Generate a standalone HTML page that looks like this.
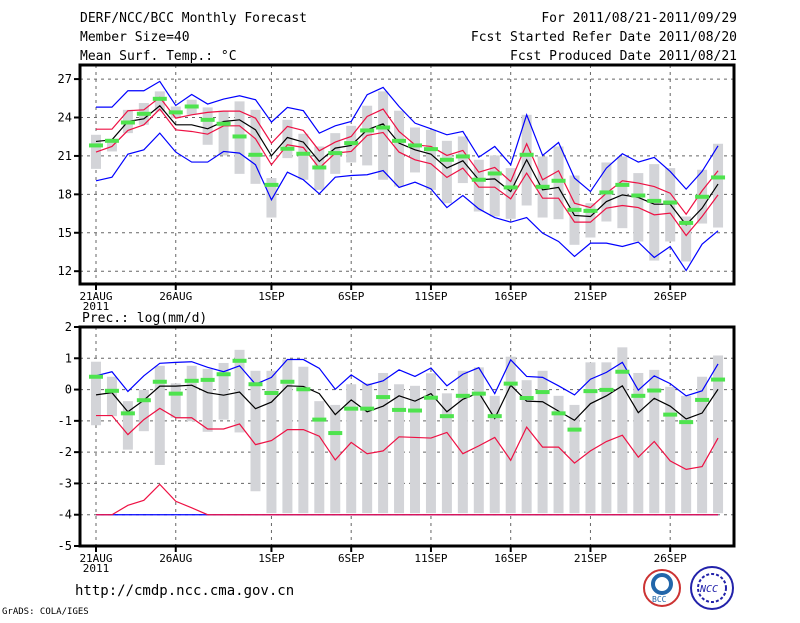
<!DOCTYPE html>
<html><head><meta charset="utf-8"><style>
body{margin:0;background:#fff;width:800px;height:618px;overflow:hidden}
svg text{font-family:"DejaVu Sans Mono","Liberation Mono",monospace;fill:#000}
</style></head><body>
<svg id="c" width="800" height="618" xmlns="http://www.w3.org/2000/svg">
<g font-size="13">
<text x="80" y="22">DERF/NCC/BCC Monthly Forecast</text>
<text x="80" y="41">Member Size=40</text>
<text x="80" y="60">Mean Surf. Temp.: °C</text>
<text x="737" y="22" text-anchor="end">For 2011/08/21-2011/09/29</text>
<text x="737" y="41" text-anchor="end">Fcst Started Refer Date 2011/08/20</text>
<text x="737" y="60" text-anchor="end">Fcst Produced Date 2011/08/21</text>
</g>
<text x="82" y="322" font-size="13">Prec.: log(mm/d)</text>
<text x="75" y="595" font-size="14">http://cmdp.ncc.cma.gov.cn</text>
<text x="2" y="614" font-size="9">GrADS: COLA/IGES</text>
<g>
<circle cx="662" cy="588" r="18" fill="#fff" stroke="#c33" stroke-width="2"/>
<circle cx="662" cy="584" r="9" fill="none" stroke="#26a" stroke-width="4"/>
<text x="652" y="602" font-size="8" fill="#26a" style="fill:#26a">BCC</text>
</g>
<g>
<circle cx="712" cy="588" r="21" fill="#fff" stroke="#22a" stroke-width="2"/>
<circle cx="712" cy="588" r="14" fill="none" stroke="#22a" stroke-width="2" stroke-dasharray="3 2"/>
<text x="700" y="592" font-size="10" style="fill:#22a;font-style:italic">NCC</text>
</g>
</svg>
<script>
const days=["21AUG","26AUG","1SEP","6SEP","11SEP","16SEP","21SEP","26SEP"];
const dayIdx=[0,5,11,16,21,26,31,36];
const tTicks=[12,15,18,21,24,27];
const pTicks=[-5,-4,-3,-2,-1,0,1,2];
const tBlueHi=[24.81,24.81,26.09,26.09,26.82,24.94,25.8,25.05,25.44,25.7,25.39,23.64,24.79,24.53,22.78,23.35,23.69,25.78,26.35,24.86,23.56,23.12,22.65,22.91,20.9,21.74,20.31,24.21,21.04,22.05,19.27,18.22,20.05,21.17,20.52,20.88,19.79,18.41,19.79,21.79];
const tRedHi=[23.09,23.09,24.53,24.6,25.57,23.95,24.21,24.4,24.5,24.5,23.95,22.0,23.3,22.99,21.4,22.08,22.52,24.08,24.66,22.91,21.87,21.74,21.04,21.43,19.73,20.1,19.0,21.95,19.14,19.84,17.31,16.97,18.09,19.06,18.88,18.61,18.09,16.45,18.28,19.84];
const tMean=[22.13,22.26,23.69,23.9,24.92,23.43,23.43,23.12,23.69,23.82,23.04,21.01,22.44,22.08,20.57,21.61,21.82,23.04,23.51,22.0,21.48,21.14,20.05,20.62,19.14,19.21,18.22,20.7,18.35,18.54,16.35,16.27,17.44,17.96,17.76,17.23,17.23,15.62,16.92,18.8];
const tRedLo=[21.3,21.74,22.99,23.43,24.66,23.04,22.91,22.7,23.35,23.35,22.34,20.31,21.87,21.66,20.05,21.22,21.35,22.6,22.83,21.3,20.7,20.39,19.32,20.05,18.56,18.56,17.65,19.66,17.7,17.7,15.83,15.83,16.92,17.13,16.97,16.4,16.53,14.79,16.27,17.96];
const tBlueLo=[19.06,19.34,21.14,21.48,22.78,21.3,20.52,20.52,21.35,21.22,20.31,17.57,19.73,19.14,18.04,19.34,19.47,19.53,19.86,18.54,18.95,18.43,16.97,17.91,16.87,16.19,15.83,16.19,14.97,14.32,13.15,14.19,14.19,13.93,14.27,13.07,13.93,12.05,14.11,15.15];
const tObs=[21.82,22.18,23.61,24.29,25.46,24.4,24.86,23.82,23.51,22.52,21.09,18.74,21.56,21.17,20.1,21.22,22.0,22.99,23.22,22.18,21.82,21.53,20.7,20.96,19.14,19.63,18.54,21.09,18.59,19.06,16.79,16.71,18.15,18.74,17.91,17.49,17.36,15.77,17.81,19.32];
const tBarHi=[22.65,22.34,24.6,25.13,26.04,24.86,25.39,24.79,24.53,25.26,24.6,19.27,23.82,22.73,21.74,22.78,23.35,24.92,26.04,24.53,23.22,23.04,22.18,22.52,20.7,21.04,20.05,24.21,20.96,21.74,19.47,17.31,20.49,20.96,19.66,20.36,20.05,16.27,19.92,21.95];
const tBarLo=[19.99,21.35,22.78,23.43,24.47,23.95,24.21,21.87,21.04,19.6,18.82,16.19,20.83,19.14,18.35,19.6,20.49,20.26,19.14,18.61,19.71,18.35,17.31,18.88,16.66,16.27,16.09,17.13,16.19,16.06,14.06,14.63,15.88,15.36,14.32,12.83,14.32,12.76,15.72,15.41];
const pBlueHi=[0.44,0.57,-0.06,0.44,0.84,0.87,0.89,0.71,0.57,0.76,0.17,0.39,0.96,0.96,0.68,0.01,0.47,0.14,0.28,0.63,0.42,0.69,0.12,0.49,0.70,-0.13,0.95,0.42,0.39,0.12,-0.17,0.33,0.55,0.87,-0.02,0.44,0.19,-0.2,-0.04,0.82];
const pMean=[-0.17,-0.10,-0.71,-0.34,0.11,0.11,0.14,-0.10,-0.18,-0.08,-0.61,-0.40,0.12,0.10,-0.13,-0.80,-0.33,-0.71,-0.53,-0.20,-0.37,-0.13,-0.71,-0.31,-0.10,-0.92,0.14,-0.37,-0.39,-0.69,-0.98,-0.45,-0.20,0.12,-0.74,-0.28,-0.53,-0.94,-0.75,0.01];
const pRedHi=[-0.83,-0.83,-1.44,-0.96,-0.60,-0.90,-0.90,-1.26,-1.26,-1.10,-1.76,-1.63,-1.28,-1.28,-1.49,-2.25,-1.69,-2.05,-1.96,-1.51,-1.53,-1.55,-1.37,-2.05,-1.80,-1.53,-2.26,-1.20,-1.84,-1.84,-2.35,-1.96,-1.66,-1.46,-2.16,-1.66,-2.28,-2.55,-2.46,-1.55];
const pRedLo=[-4,-4,-3.70,-3.54,-3.03,-3.57,-3.78,-4,-4,-4,-4,-4,-4,-4,-4,-4,-4,-4,-4,-4,-4,-4,-4,-4,-4,-4,-4,-4,-4,-4,-4,-4,-4,-4,-4,-4,-4,-4,-4,-4];
const pBlueLo=[-4,-4,-4,-4,-4,-4,-4,-4,-4,-4,-4,-4,-4,-4,-4,-4,-4,-4,-4,-4,-4,-4,-4,-4,-4,-4,-4,-4,-4,-4,-4,-4,-4,-4,-4,-4,-4,-4,-4,-4];
const pObs=[0.41,-0.04,-0.76,-0.34,0.25,-0.13,0.28,0.31,0.49,0.92,0.17,-0.11,0.25,0.01,-0.96,-1.39,-0.61,-0.61,-0.24,-0.65,-0.67,-0.26,-0.85,-0.20,-0.13,-0.85,0.19,-0.27,-0.08,-0.76,-1.28,-0.05,-0.01,0.57,-0.20,-0.03,-0.80,-1.04,-0.33,0.32];
const pBarHi=[0.89,0.41,-0.37,-0.01,0.76,0.2,0.76,0.66,0.85,1.27,0.6,0.6,0.96,0.73,-0.37,-0.49,0.17,0.2,0.53,0.17,0.12,0.52,-0.12,0.6,0.71,-0.2,1.05,0.3,0.6,-0.2,-0.49,0.87,0.87,1.35,0.53,0.63,0.09,-0.2,0.41,1.09];
const pBarLo=[-1.14,-0.85,-1.92,-1.33,-2.41,-0.9,-1.01,-1.35,-0.96,-1.37,-3.25,-3.95,-3.95,-3.95,-3.95,-3.95,-3.95,-3.95,-3.95,-3.95,-3.95,-3.95,-3.95,-3.95,-3.95,-3.95,-3.95,-3.95,-3.95,-3.95,-3.95,-3.95,-3.95,-3.95,-3.95,-3.95,-3.95,-3.95,-3.95,-3.95];

const svg=document.getElementById('c');
const NS='http://www.w3.org/2000/svg';
function mk(tag,attrs,parent){const e=document.createElementNS(NS,tag);for(const k in attrs)e.setAttribute(k,attrs[k]);(parent||svg).appendChild(e);return e;}
const X=i=>96+15.95*i;

function panel(name,top,bot,vmin,vmax,ticks,series,bHi,bLo,obs){
  const Y=v=>bot-(v-vmin)/(vmax-vmin)*(bot-top);
  const g=mk('g',{});
  
  
  ticks.forEach(t=>{
    const y=Y(t);
    if(t>vmin&&t<vmax){const l=mk('line',{x1:80,x2:734,y1:y,y2:y,stroke:'#666','stroke-dasharray':'3 4','stroke-width':1},g);
    
    }
    mk('line',{x1:74,x2:80,y1:y,y2:y,stroke:'#000','stroke-width':2},g);
    const tx=mk('text',{x:72,y:y+4,'text-anchor':'end','font-size':12},g);
    tx.textContent=t;
    
    
  });
  dayIdx.forEach((d,k)=>{
    const x=X(d);
    const l=mk('line',{x1:x,x2:x,y1:top,y2:bot,stroke:'#666','stroke-dasharray':'3 4','stroke-width':1},g);
    
    
    mk('line',{x1:x,x2:x,y1:bot,y2:bot+6,stroke:'#000','stroke-width':2},g);
    const tx=mk('text',{x:x,y:bot+16,'text-anchor':'middle','font-size':11},g);
    tx.textContent=days[k];
    
    
  });
  const yr=mk('text',{x:X(0),y:bot+26,'text-anchor':'middle','font-size':11},g);
  yr.textContent='2011';
  
  
  bHi.forEach((h,i)=>{
    const r=mk('rect',{x:X(i)-5,y:Y(h),width:10,height:Y(bLo[i])-Y(h),fill:'#d3d4d8'},g);
    
    
  });
  series.forEach(s=>{
    const p=mk('polyline',{points:s.d.map((v,i)=>X(i)+','+Y(v)).join(' '),fill:'none',stroke:s.c,'stroke-width':1.2},g);
    
    
  });
  obs.forEach((v,i)=>{
    const r=mk('rect',{x:X(i)-7,y:Y(v)-2,width:14,height:4,fill:'#4ee34e'},g);
    
    
  });
  const f=mk('rect',{x:80,y:top,width:654,height:bot-top,fill:'none',stroke:'#000','stroke-width':3},g);
  
  
}
panel('temperature-panel',65,284,11.0,28.1,tTicks,[
 {d:tBlueHi,c:'#0000ff',n:'temp-upper-blue'},{d:tBlueLo,c:'#0000ff',n:'temp-lower-blue'},
 {d:tRedHi,c:'#ee1144',n:'temp-upper-red'},{d:tRedLo,c:'#ee1144',n:'temp-lower-red'},
 {d:tMean,c:'#000',n:'temp-mean'}],tBarHi,tBarLo,tObs);
panel('precip-panel',327,546,-5,2,pTicks,[
 {d:pBlueLo,c:'#0000ff',n:'precip-lower-blue'},{d:pRedLo,c:'#ee1144',n:'precip-lower-red'},
 {d:pBlueHi,c:'#0000ff',n:'precip-upper-blue'},{d:pRedHi,c:'#ee1144',n:'precip-upper-red'},
 {d:pMean,c:'#000',n:'precip-mean'}],pBarHi,pBarLo,pObs);
</script>
</body></html>
